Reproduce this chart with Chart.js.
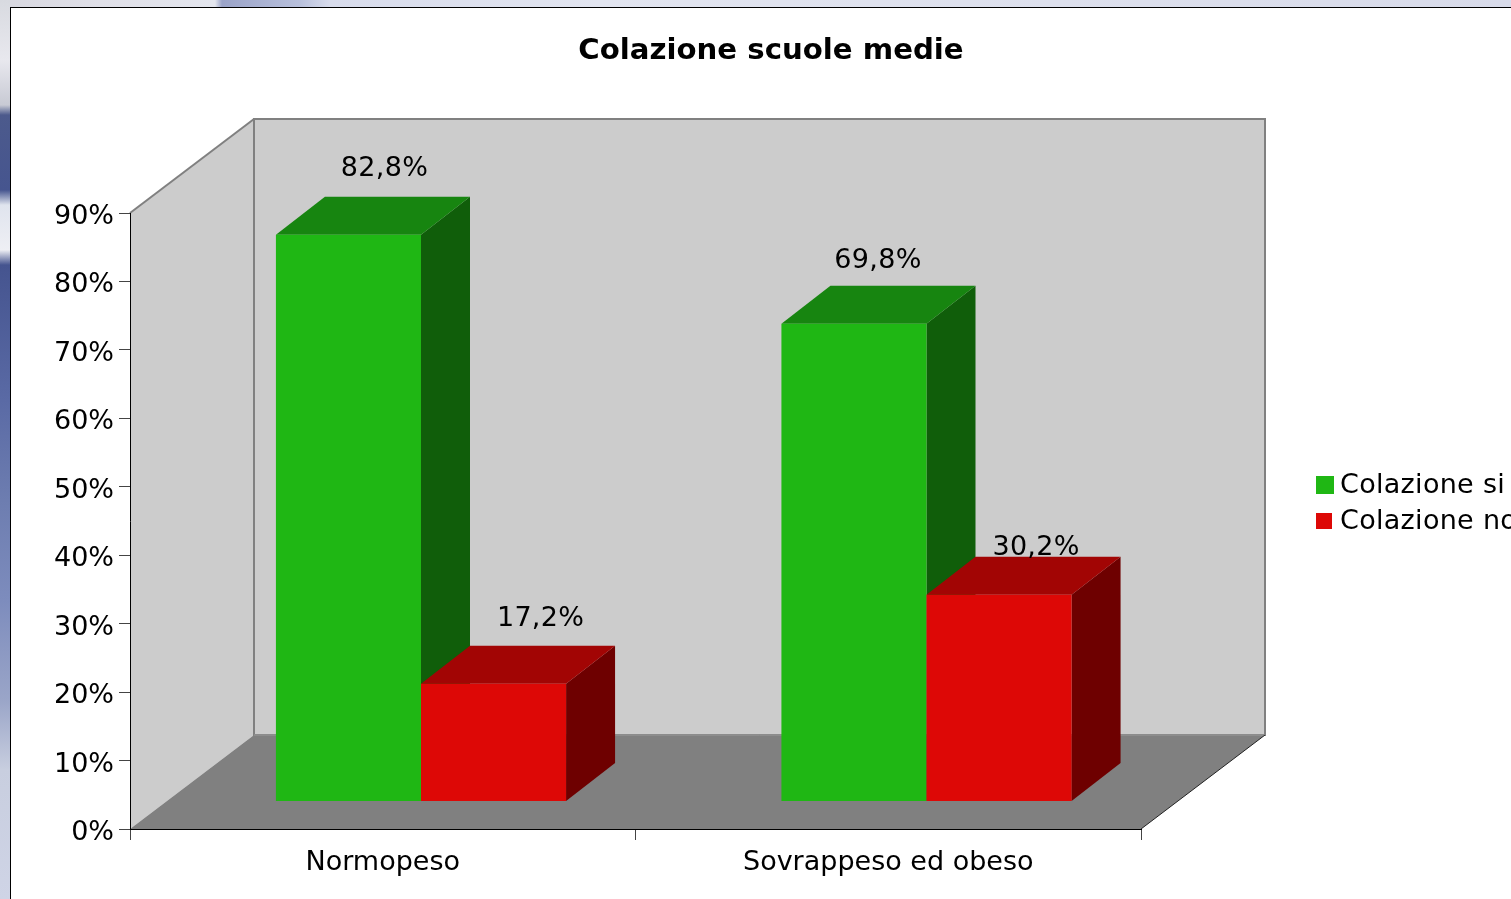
<!DOCTYPE html>
<html lang="it">
<head>
  <meta charset="UTF-8" />
  <title>Colazione scuole medie</title>
  <script src="https://cdn.jsdelivr.net/npm/chart.js"></script>
  <style>
    html, body { margin: 0; padding: 0; width: 1511px; height: 899px; overflow: hidden; }
    body {
      background:
        linear-gradient(to bottom, #d8dae0 0, #e8e8ee 60px, #c8cad4 105px, #4c5a8c 115px, #46558f 190px, #e0e4ee 205px, #eeeff4 250px, #45548f 265px, #5a6aa5 400px, #6d7db0 500px, #7d8cbd 600px, #9aa5c8 700px, #c8cedf 770px, #cfd4e6 899px) left top / 10px 899px no-repeat,
        linear-gradient(to right, #d8d8e0 0, #e0e0e8 100px, #e4e6ee 215px, #9aa3c8 222px, #b8c0dc 300px, #d8dcec 330px, #e2e5f0 600px, #d8dbea 1511px) left top / 1511px 7px no-repeat;
    }
    #frame { position: absolute; left: 10px; top: 7px; width: 1501px; height: 892px; background: #fff; border-left: 1px solid #000; border-top: 1px solid #000; box-sizing: border-box; }
    #chart { position: absolute; left: 0; top: 0; }
  </style>
</head>
<body>
  <div id="frame"></div>
  <canvas id="chart" width="1542" height="899"></canvas>

  <script>
    const categories = ['Normopeso', 'Sovrappeso ed obeso'];
    const colazioneSi = [82.8, 69.8];
    const colazioneNo = [17.2, 30.2];
    const yTicks = [0, 10, 20, 30, 40, 50, 60, 70, 80, 90];

    const FONT = '"DejaVu Sans", sans-serif';
    // 3D look: how far the box goes back, and where the bars sit on the floor
    const BOX_DEPTH = { x: 124, y: -94 };
    const BAR_SHIFT = { x: 38.25, y: -27.5 };
    const BAR_DEPTH = { x: 49, y: -38 };
    // label offsets from the bar's front top centre, as they fall in the picture
    const labelNudge = [
      [{ x: 36, y: -66 }, { x: 24, y: -63 }],
      [{ x: 47, y: -65 }, { x: 37, y: -47 }]
    ];
    const shades = [
      { top: '#178510', side: '#105e0a' },
      { top: '#a20504', side: '#6e0000' }
    ];

    function poly(ctx, pts, fill, stroke, width) {
      ctx.beginPath();
      pts.forEach((p, i) => i ? ctx.lineTo(p[0], p[1]) : ctx.moveTo(p[0], p[1]));
      ctx.closePath();
      if (fill) { ctx.fillStyle = fill; ctx.fill(); }
      if (stroke) { ctx.strokeStyle = stroke; ctx.lineWidth = width; ctx.stroke(); }
    }

    // Walls and floor behind the bars
    const box3d = {
      id: 'box3d',
      // the title is centred on the whole canvas, not on what is left of the legend room
      afterLayout(chart) {
        chart.titleBlock.left = 0;
        chart.titleBlock.right = chart.width;
        chart.titleBlock.width = chart.width;
      },
      beforeDatasetsDraw(chart) {
        const { left, right, top, bottom } = chart.chartArea;
        const ctx = chart.ctx;
        const dx = BOX_DEPTH.x, dy = BOX_DEPTH.y;
        ctx.save();
        poly(ctx, [[left, top], [left + dx, top + dy], [left + dx, bottom + dy], [left, bottom]], '#cccccc');
        poly(ctx, [[left + dx, top + dy], [right + dx, top + dy], [right + dx, bottom + dy], [left + dx, bottom + dy]], '#cccccc', '#808080', 2);
        poly(ctx, [[left, bottom], [right, bottom], [right + dx, bottom + dy], [left + dx, bottom + dy]], '#808080');
        ctx.beginPath();
        ctx.moveTo(left, top); ctx.lineTo(left + dx, top + dy);
        ctx.strokeStyle = '#808080'; ctx.lineWidth = 2; ctx.stroke();
        ctx.beginPath();
        ctx.moveTo(left + dx, bottom + dy); ctx.lineTo(right + dx, bottom + dy);
        ctx.strokeStyle = '#999'; ctx.lineWidth = 1; ctx.stroke();
        ctx.beginPath();
        ctx.moveTo(right, bottom); ctx.lineTo(right + dx, bottom + dy);
        ctx.strokeStyle = '#222'; ctx.lineWidth = 1; ctx.stroke();
        ctx.restore();

        // bars in dataset order, so the red top falls over the green side
        chart.data.datasets.forEach((ds, i) => {
          const meta = chart.getDatasetMeta(i);
          ctx.save();
          ctx.translate(BAR_SHIFT.x, BAR_SHIFT.y);
          meta.data.forEach(bar => {
            const l = bar.x - bar.width / 2, r = bar.x + bar.width / 2;
            const dX = BAR_DEPTH.x, dY = BAR_DEPTH.y;
            poly(ctx, [[r, bar.y], [r + dX, bar.y + dY], [r + dX, bar.base + dY], [r, bar.base]], shades[i].side);
            poly(ctx, [[l, bar.y], [l + dX, bar.y + dY], [r + dX, bar.y + dY], [r, bar.y]], shades[i].top);
            bar.draw(ctx);
          });
          ctx.restore();
        });

        // value labels
        ctx.save();
        ctx.font = '27px ' + FONT;
        ctx.letterSpacing = '0.3px';
        ctx.fillStyle = '#000';
        ctx.textAlign = 'center';
        ctx.textBaseline = 'middle';
        chart.data.datasets.forEach((ds, i) => {
          chart.getDatasetMeta(i).data.forEach((bar, j) => {
            const txt = ds.data[j].toFixed(1).replace('.', ',') + '%';
            ctx.fillText(txt, bar.x + BAR_SHIFT.x + labelNudge[i][j].x, bar.y + BAR_SHIFT.y + labelNudge[i][j].y);
          });
        });
        ctx.restore();

        // legend, set beside the box and running off the window edge
        ctx.save();
        ctx.font = '27px ' + FONT;
        ctx.letterSpacing = '0.3px';
        ctx.textBaseline = 'middle';
        ctx.textAlign = 'left';
        chart.data.datasets.forEach((ds, i) => {
          const size = i === 0 ? 18 : 16;
          const y = 485 + i * 36;
          ctx.fillStyle = ds.backgroundColor;
          ctx.fillRect(1316, y - size / 2, size, size);
          ctx.fillStyle = '#000';
          ctx.fillText(ds.label, 1340, y + 1);
        });
        ctx.restore();
        return false;
      }
    };

    new Chart(document.getElementById('chart'), {
      type: 'bar',
      data: {
        labels: categories,
        datasets: [
          { label: 'Colazione si', data: colazioneSi, backgroundColor: '#1fb714', borderWidth: 0 },
          { label: 'Colazione no', data: colazioneNo, backgroundColor: '#dd0806', borderWidth: 0 }
        ]
      },
      plugins: [box3d],
      options: {
        responsive: false,
        animation: false,
        categoryPercentage: 0.574,
        barPercentage: 1,
        layout: { padding: { left: 0, right: 401, top: 0, bottom: 0 } },
        plugins: {
          legend: { display: false },
          tooltip: { enabled: false },
          title: {
            display: true,
            text: 'Colazione scuole medie',
            color: '#000',
            font: { family: FONT, size: 29.2, weight: 'bold', lineHeight: 1.2 },
            padding: { top: 34, bottom: 144 }
          }
        },
        scales: {
          x: {
            afterFit(scale) { scale.height = 70; },
            grid: { offset: true, drawOnChartArea: false, tickLength: 11, tickColor: '#444', lineWidth: 1 },
            border: { color: '#000', width: 1, z: 1 },
            ticks: { color: '#000', font: { family: FONT, size: 27 }, padding: 7, maxRotation: 0 }
          },
          y: {
            min: 0,
            max: 90,
            afterFit(scale) { scale.width = 130; },
            afterBuildTicks(scale) { scale.ticks = yTicks.map(v => ({ value: v })); },
            grid: { drawOnChartArea: false, tickLength: 11, tickColor: '#444', lineWidth: 1 },
            border: { color: '#000', width: 1, z: 1 },
            ticks: { color: '#000', font: { family: FONT, size: 27 }, padding: 5, labelOffset: 4, callback: v => v + '%' }
          }
        }
      }
    });
  </script>
</body>
</html>
